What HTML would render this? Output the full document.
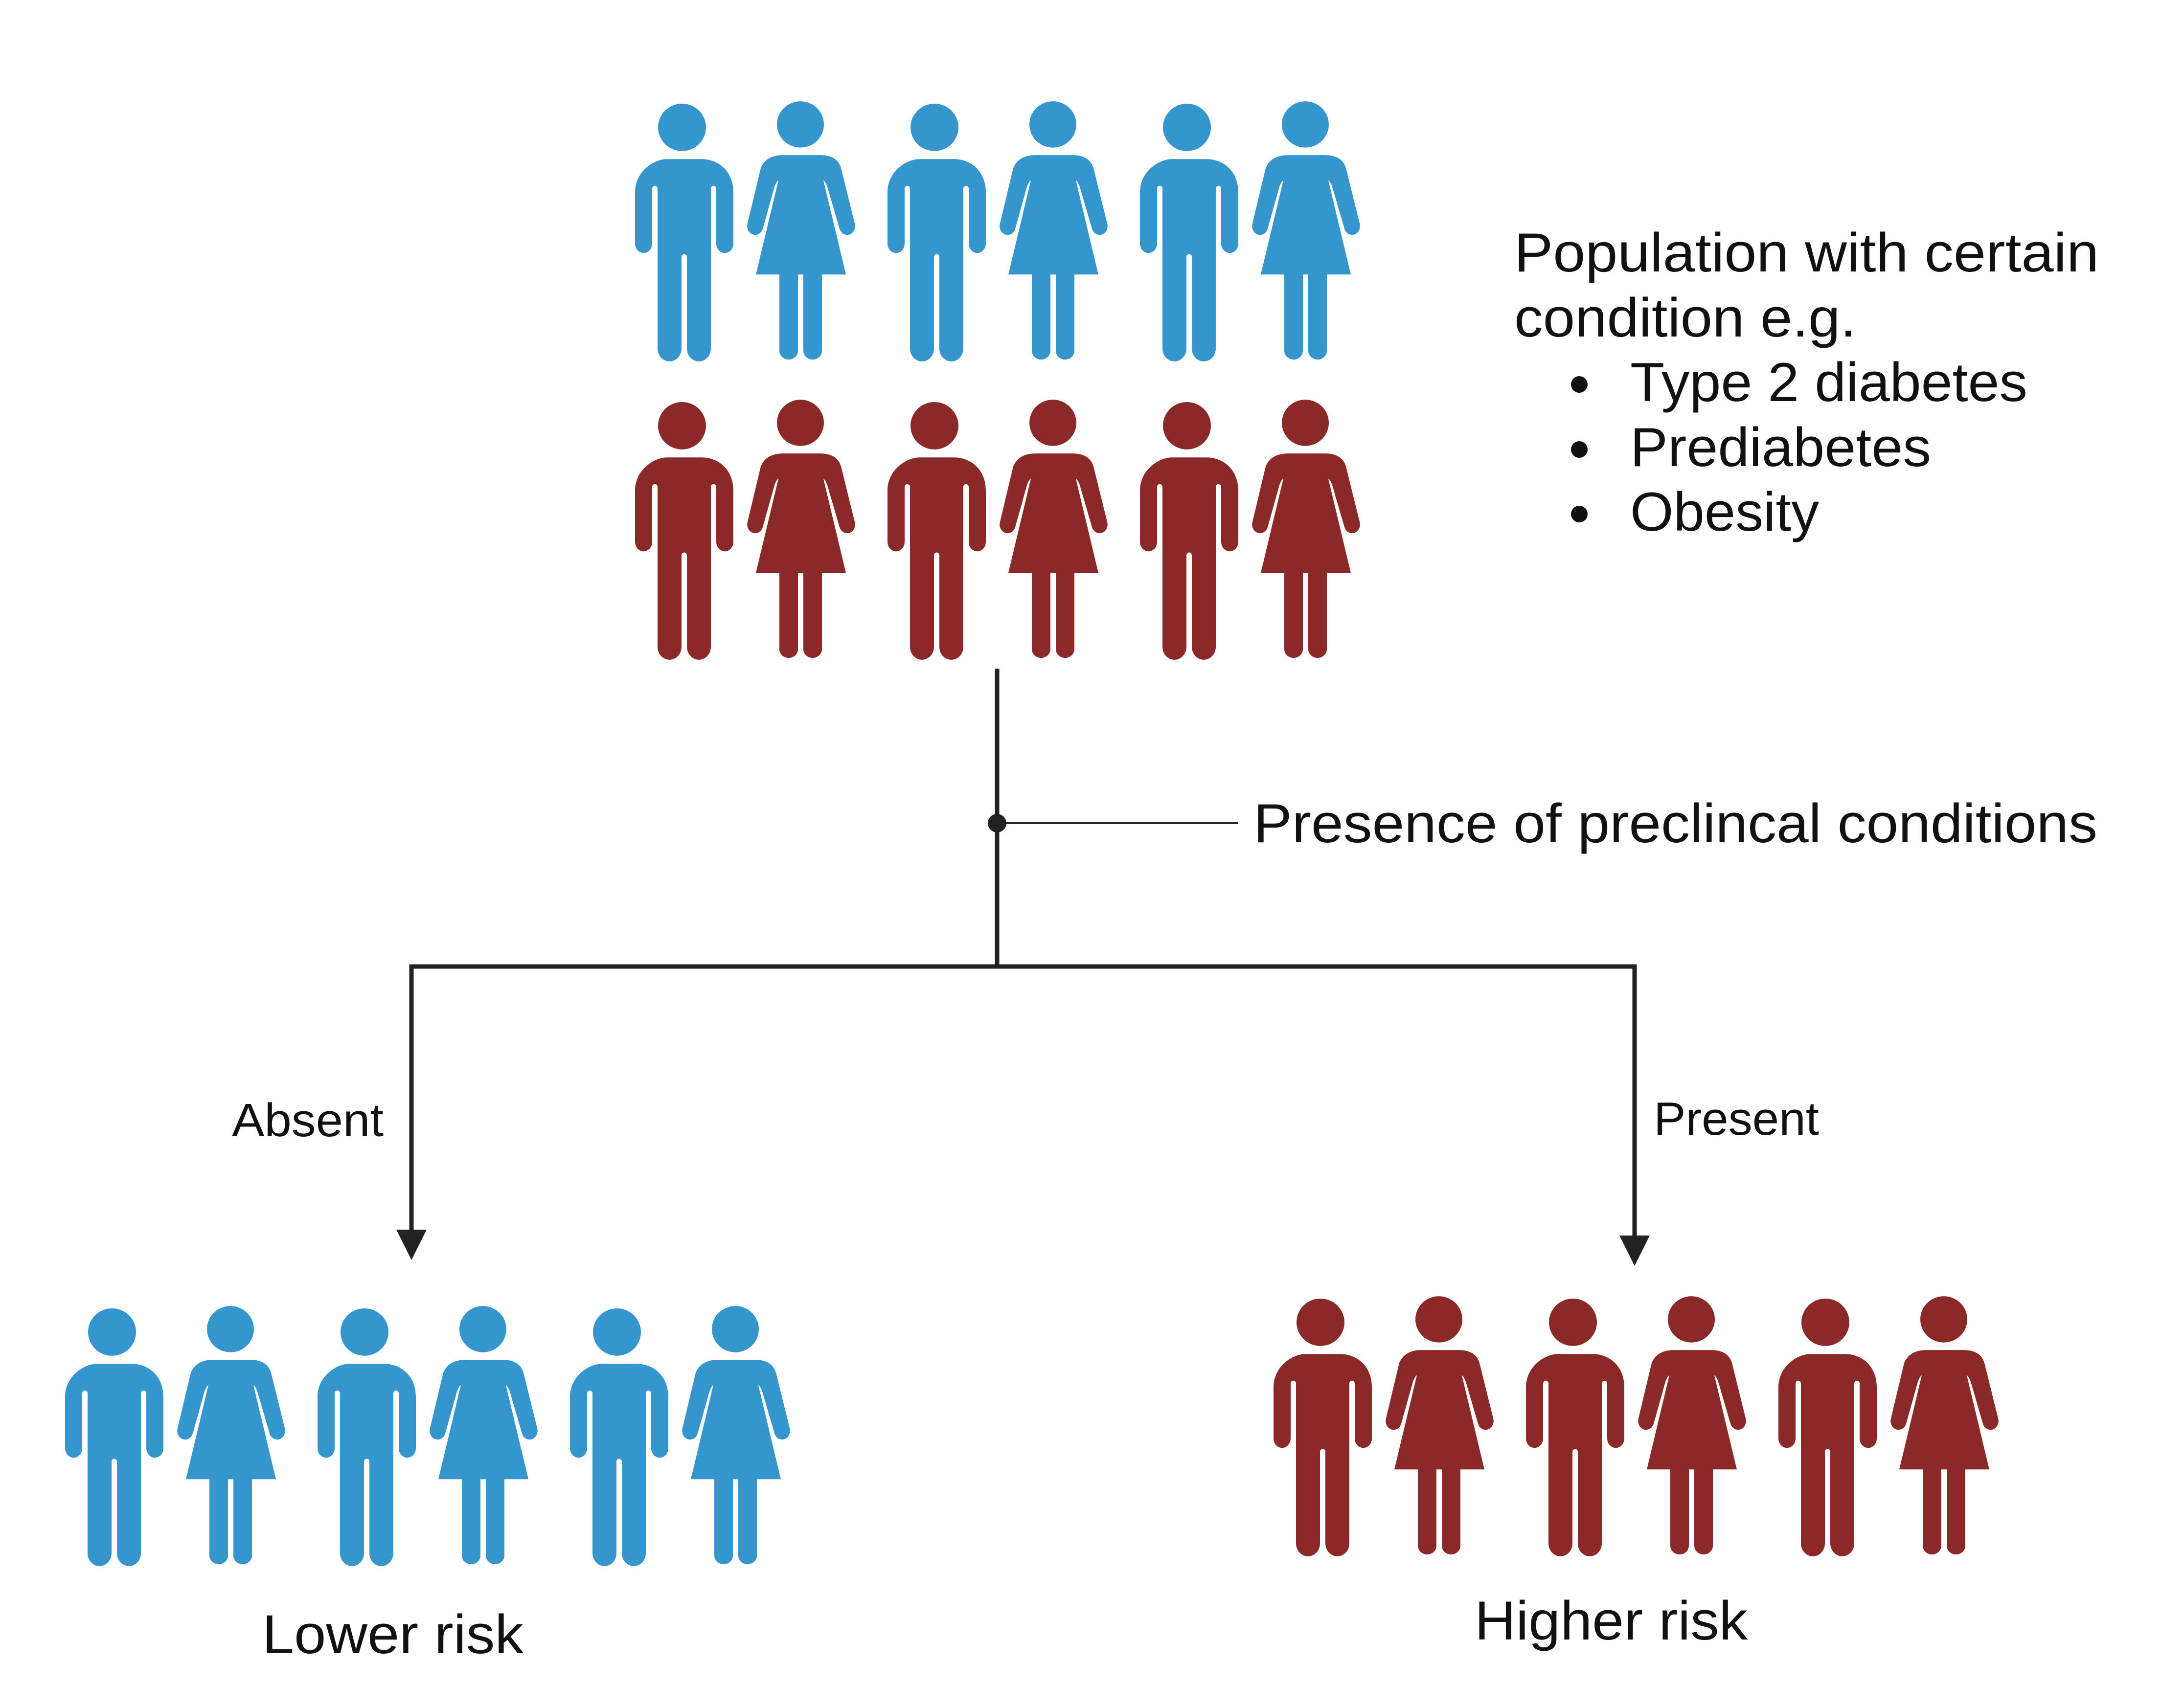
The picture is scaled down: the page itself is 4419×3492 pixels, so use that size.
<!DOCTYPE html>
<html><head><meta charset="utf-8"><style>html,body{margin:0;padding:0;background:#fff}svg{display:block}</style></head>
<body>
<svg width="4419" height="3492" viewBox="0 0 4419 3492" xmlns="http://www.w3.org/2000/svg">
<defs>
<g id="man" transform="scale(1,1.1)">
<ellipse cx="96" cy="44" rx="49" ry="44"/>
<path d="M0,165 C0,125 40,103 65,103 H136 C170,103 201,125 201,165 V260 A17.5 17.5 0 0 1 166 260 V158 A5.5 5.5 0 0 0 155 158 V455 A24.5 24 0 0 1 106 455 V285 A5.5 5.5 0 0 0 95 285 V455 A24.5 24 0 0 1 46 455 V158 A5.5 5.5 0 0 0 35 158 V260 A17.5 17.5 0 0 1 0 260 Z"/>
</g>
<g id="woman" transform="scale(1,1.1)">
<ellipse cx="110" cy="44" rx="48" ry="43"/>
<path d="M29,125 Q40,101 75,101 H150 Q185,101 193,125 L221,228 A16 16 0 0 1 190 238 L165,160 Q161,150 157,148 L203,323 H154 V465 A19 16 0 0 1 116 465 V323 H105 V465 A19 16 0 0 1 67 465 V323 H19 L65,148 Q61,150 57,160 L33,238 A16 16 0 0 1 2 228 Z"/>
</g>
<g id="row">
<use href="#man" x="0" y="0"/><use href="#woman" x="228" y="-6"/>
<use href="#man" x="516" y="0"/><use href="#woman" x="744" y="-6"/>
<use href="#man" x="1032" y="0"/><use href="#woman" x="1260" y="-6"/>
</g>
</defs>
<g fill="#3595CD"><use href="#row" x="1298" y="212"/><use href="#row" x="133" y="2675"/></g>
<g fill="#8B2828"><use href="#row" x="1298" y="822"/><use href="#row" x="2603" y="2655"/></g>

<g stroke="#222" stroke-width="9" fill="none">
<line x1="2038" y1="1367" x2="2038" y2="1976"/>
<polyline points="841,2520 841,1976 3341,1976 3341,2530"/>
</g>
<line x1="2038" y1="1683" x2="2531" y2="1683" stroke="#222" stroke-width="4"/>
<circle cx="2038" cy="1683" r="19" fill="#222"/>
<polygon points="810,2514 872,2514 841,2576" fill="#222"/>
<polygon points="3310,2526 3372,2526 3341,2588" fill="#222"/>

<g font-family="Liberation Sans, sans-serif" fill="#111" font-size="112">
<text x="3095" y="555" textLength="1195" lengthAdjust="spacingAndGlyphs">Population with certain</text>
<text x="3095" y="688" textLength="699" lengthAdjust="spacingAndGlyphs">condition e.g.</text>
<circle cx="3228" cy="786" r="17"/><circle cx="3228" cy="919" r="17"/><circle cx="3228" cy="1051" r="17"/>
<text x="3332" y="820" textLength="812" lengthAdjust="spacingAndGlyphs">Type 2 diabetes</text>
<text x="3332" y="953" textLength="615" lengthAdjust="spacingAndGlyphs">Prediabetes</text>
<text x="3332" y="1085" textLength="386" lengthAdjust="spacingAndGlyphs">Obesity</text>
<text x="2562" y="1722" textLength="1725" lengthAdjust="spacingAndGlyphs">Presence of preclincal conditions</text>
<text x="536" y="3380" textLength="534" lengthAdjust="spacingAndGlyphs">Lower risk</text>
<text x="3014" y="3352" textLength="558" lengthAdjust="spacingAndGlyphs">Higher risk</text>
<text x="474" y="2323" font-size="96" textLength="310" lengthAdjust="spacingAndGlyphs">Absent</text>
<text x="3380" y="2320" font-size="96" textLength="338" lengthAdjust="spacingAndGlyphs">Present</text>
</g>
</svg>
</body></html>
